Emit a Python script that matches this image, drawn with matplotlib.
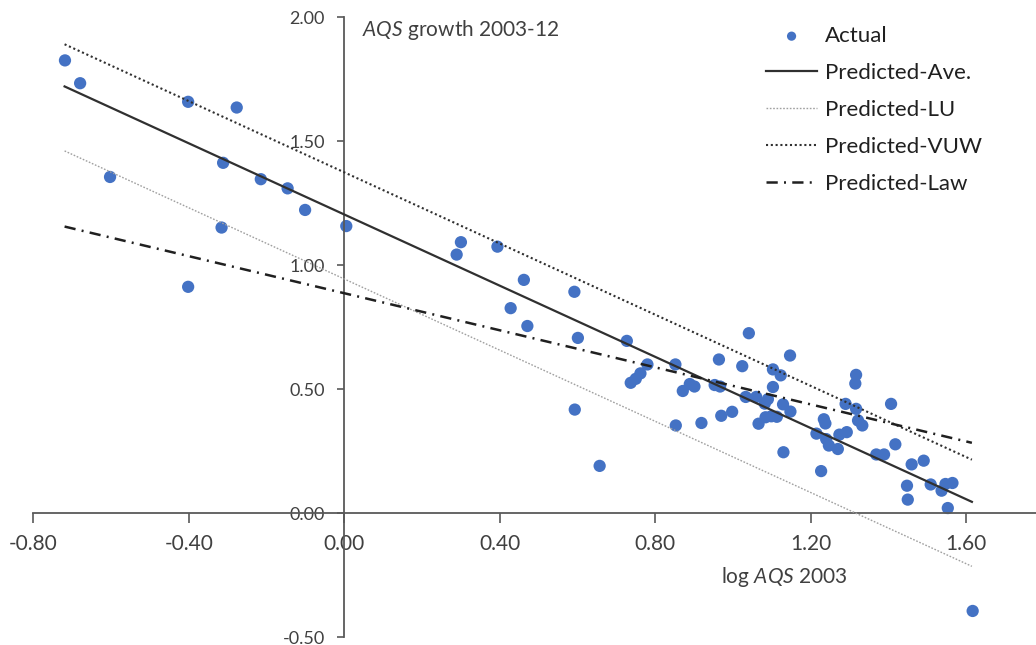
import matplotlib
matplotlib.use("Agg")
import matplotlib.pyplot as plt

# log AQS 2003 vs AQS growth 2003-12
actual_x = [-0.719, -0.680, -0.603, -0.402, -0.402, -0.316, -0.312, -0.277, -0.215, -0.146,
            -0.101, 0.005, 0.289, 0.300, 0.394, 0.428, 0.462, 0.471, 0.592, 0.593,
            0.601, 0.657, 0.727, 0.737, 0.750, 0.762, 0.780, 0.852, 0.853, 0.871,
            0.889, 0.901, 0.919, 0.953, 0.967, 0.964, 0.970, 0.998, 1.024, 1.033,
            1.041, 1.060, 1.066, 1.082, 1.090, 1.084, 1.099, 1.113, 1.103, 1.103,
            1.123, 1.129, 1.130, 1.147, 1.148, 1.215, 1.227, 1.234, 1.238, 1.240,
            1.247, 1.270, 1.274, 1.293, 1.290, 1.315, 1.317, 1.317, 1.322, 1.333,
            1.369, 1.389, 1.407, 1.418, 1.448, 1.450, 1.460, 1.491, 1.509, 1.537,
            1.547, 1.553, 1.565, 1.617]
actual_y = [1.825, 1.733, 1.355, 1.658, 0.912, 1.151, 1.412, 1.635, 1.346, 1.309,
            1.222, 1.157, 1.042, 1.092, 1.074, 0.826, 0.940, 0.754, 0.892, 0.417,
            0.706, 0.190, 0.694, 0.525, 0.541, 0.563, 0.599, 0.599, 0.353, 0.492,
            0.520, 0.510, 0.363, 0.516, 0.510, 0.619, 0.392, 0.408, 0.592, 0.468,
            0.725, 0.468, 0.360, 0.441, 0.459, 0.386, 0.390, 0.388, 0.579, 0.508,
            0.555, 0.438, 0.245, 0.635, 0.409, 0.320, 0.169, 0.378, 0.361, 0.298,
            0.272, 0.258, 0.316, 0.326, 0.440, 0.522, 0.557, 0.420, 0.373, 0.353,
            0.236, 0.236, 0.440, 0.277, 0.110, 0.054, 0.196, 0.211, 0.115, 0.090,
            0.117, 0.020, 0.121, -0.395]

# predicted lines: end points
pred_x = [-0.72, 1.615]
pred_ave = [1.720, 0.045]
pred_lu = [1.460, -0.215]
pred_vuw = [1.890, 0.215]
pred_law = [1.155, 0.283]

x_ticks = [-0.80, -0.40, 0.00, 0.40, 0.80, 1.20, 1.60]
y_ticks = [-0.50, 0.00, 0.50, 1.00, 1.50, 2.00]

plt.rcParams['font.family'] = ['Lato', 'DejaVu Sans']
plt.rcParams['mathtext.fontset'] = 'custom'
plt.rcParams['mathtext.it'] = 'Lato:italic'
plt.rcParams['mathtext.rm'] = 'Lato'

txt = '#404040'
fig = plt.figure(figsize=(10.36, 6.45), dpi=100)
ax = fig.add_axes([33.5 / 1036, 8 / 645, 1 - 33.5 / 1036, 620 / 645])

ax.scatter(actual_x, actual_y, s=78, color='#4472C4', edgecolors='none', label='Actual', zorder=2)
ax.plot(pred_x, pred_ave, color='#303030', lw=1.6, label='Predicted-Ave.', zorder=3)
ax.plot(pred_x, pred_lu, color='#a0a0a0', lw=1.0, linestyle=(0, (1.2, 1.2)), label='Predicted-LU', zorder=3)
ax.plot(pred_x, pred_vuw, color='#303030', lw=1.5, linestyle=(0, (1, 1.3)), label='Predicted-VUW', zorder=3)
ax.plot(pred_x, pred_law, color='#202020', lw=1.8, linestyle=(0, (4.5, 2.5, 0.8, 2.5)), label='Predicted-Law', zorder=3)

ax.set_xlim(-0.80, 1.78)
ax.set_ylim(-0.50, 2.00)

ax.spines['left'].set_position(('data', 0))
ax.spines['bottom'].set_position(('data', 0))
ax.spines['right'].set_visible(False)
ax.spines['top'].set_visible(False)
for s in ('left', 'bottom'):
    ax.spines[s].set_color('#595959')
    ax.spines[s].set_linewidth(1.3)

ax.set_xticks(x_ticks)
ax.set_xticklabels([f'{v:.2f}' for v in x_ticks])
ax.set_yticks(y_ticks)
ax.set_yticklabels([f'{v:.2f}' for v in y_ticks])
ax.tick_params(axis='x', direction='out', length=7, width=1.2, color='#595959',
               labelsize=15, labelcolor=txt, pad=8)
ax.tick_params(axis='y', direction='out', length=5, width=1.2, color='#595959',
               labelsize=13, labelcolor=txt, pad=9)
ax.patch.set_alpha(0)

ax.text(0.045, 1.948, r'$\mathit{AQS}$ growth 2003-12', fontsize=15, color=txt,
        ha='left', va='center')
ax.text(0.97, -0.257, r'log $\mathit{AQS}$ 2003', fontsize=15, color=txt,
        ha='left', va='center')

leg = ax.legend(loc='upper left', bbox_to_anchor=(766 / 1036, 1 - 26 / 645),
                bbox_transform=fig.transFigure, frameon=False, fontsize=16,
                handlelength=2.3, handletextpad=0.35, labelspacing=0.76,
                borderpad=0, borderaxespad=0, markerscale=0.75)
for t in leg.get_texts():
    t.set_color('#202020')

fig.savefig('out.png', dpi=100)
